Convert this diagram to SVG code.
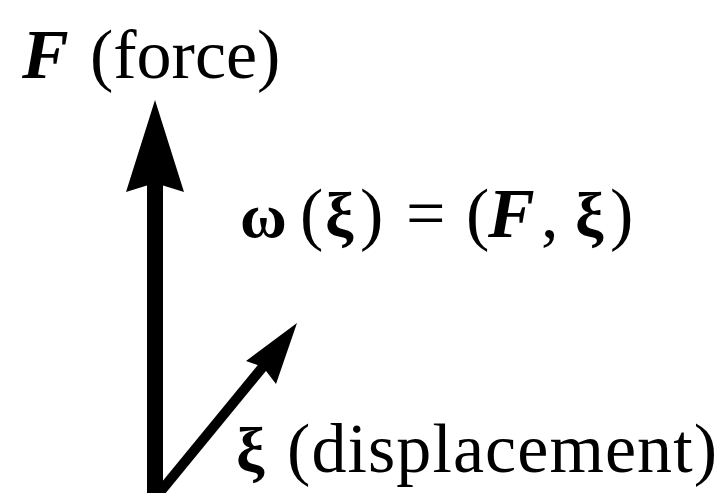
<svg xmlns="http://www.w3.org/2000/svg" width="719" height="493" viewBox="0 0 719 493">
<style>
.t{font-family:"Liberation Serif","Times New Roman",serif;font-size:70px;fill:#000}
.b{font-weight:bold;font-style:italic}
.g{font-weight:bold;font-size:64px}
</style>
<rect width="719" height="493" fill="#fff"/>
<g id="connectors">
<line x1="155" y1="495" x2="155" y2="180" stroke="#000" stroke-width="16"/>
<polygon points="155,100 184,192 155,183 126,192" fill="#000"/>
<line x1="156" y1="497" x2="266" y2="363" stroke="#000" stroke-width="10"/>
<polygon points="297,323 276,384 263,367 246,361" fill="#000"/>
</g>
<g id="force-label"><text class="t" x="22" y="78"><tspan class="b">F</tspan><tspan x="90">(force)</tspan></text></g>
<g id="omega-label"><text class="t" y="237"><tspan x="240" class="g">ω</tspan><tspan x="300">(</tspan><tspan x="325" class="g">ξ</tspan><tspan x="360">)</tspan><tspan x="406">=</tspan><tspan x="466">(</tspan><tspan x="488" class="b">F</tspan><tspan x="541">,</tspan><tspan x="575" class="g">ξ</tspan><tspan x="610">)</tspan></text></g>
<g id="xi-label"><text class="t" y="472"><tspan x="236" class="g">ξ</tspan><tspan x="287" textLength="430">(displacement)</tspan></text></g>
</svg>
